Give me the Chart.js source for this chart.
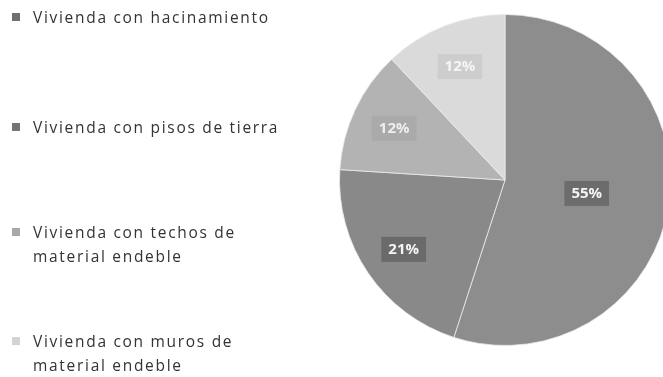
<!DOCTYPE html>
<html>
<head>
<meta charset="utf-8">
<script src="https://cdn.jsdelivr.net/npm/chart.js@4"></script>
<style>
  html, body { margin: 0; padding: 0; background: #fff; overflow: hidden; }
  body { width: 663px; height: 377px; position: relative; }
  #wrap { position: absolute; left: 0; top: 0; width: 680px; height: 377px; }
  #legend { position: absolute; left: 0; top: 0; width: 330px; height: 377px; }
  .item {
    position: absolute; left: 10px; width: 300px;
    font-family: "Open Sans", sans-serif; font-size: 15.5px; letter-spacing: 1.7px;
    line-height: 24px; color: #333;
    padding-left: 23px; box-sizing: border-box;
  }
  .item .box { position: absolute; left: 2px; top: 8px; width: 8px; height: 8px; }
  .item:nth-child(1) { top: 5px; }
  .item:nth-child(2) { top: 115px; }
  .item:nth-child(3) { top: 220px; width: 262px; }
  .item:nth-child(4) { top: 329px; width: 262px; }
</style>
</head>
<body>
<div id="wrap"><canvas id="pie"></canvas></div>
<div id="legend"></div>
<script>
const labels = [
  'Vivienda con hacinamiento',
  'Vivienda con pisos de tierra',
  'Vivienda con techos de material endeble',
  'Vivienda con muros de material endeble'
];
const shares = [55, 21, 12, 12];
const fills = ['#8d8d8d', '#898989', '#b3b3b3', '#dadada'];
const boxFills = ['#6f6f6f', '#747474', '#a9a9a9', '#d4d4d4'];

// percent labels drawn inside each slice on a soft dark box
const sliceLabels = {
  id: 'sliceLabels',
  afterDatasetsDraw(chart) {
    const ctx = chart.ctx;
    const meta = chart.getDatasetMeta(0);
    ctx.save();
    ctx.font = 'bold 15px "Open Sans", sans-serif';
    ctx.textAlign = 'center';
    ctx.textBaseline = 'middle';
    meta.data.forEach((arc, i) => {
      const p = arc.getProps(['x', 'y', 'startAngle', 'endAngle', 'outerRadius']);
      const mid = (p.startAngle + p.endAngle) / 2;
      const r = p.outerRadius * (shares[i] > 40 ? 0.5 : 0.74);
      const x = p.x + Math.cos(mid) * r;
      const y = p.y + Math.sin(mid) * r;
      const text = shares[i] + '%';
      const w = ctx.measureText(text).width + 14;
      ctx.fillStyle = i < 2 ? 'rgba(60,60,60,0.4)' : 'rgba(60,60,60,0.08)';
      ctx.fillRect(x - w / 2, y - 12, w, 25);
      ctx.fillStyle = i < 2 ? '#f4f4f4' : 'rgba(255,255,255,0.8)';
      ctx.fillText(text, x, y + 1);
    });
    ctx.restore();
  }
};

const chart = new Chart(document.getElementById('pie'), {
  type: 'pie',
  data: {
    labels: labels,
    datasets: [{
      data: shares,
      backgroundColor: fills,
      borderColor: 'rgba(235,235,235,0.8)',
      borderWidth: 1
    }]
  },
  options: {
    responsive: true,
    maintainAspectRatio: false,
    animation: false,
    layout: { padding: { left: 339, right: 9, top: 14, bottom: 31 } },
    plugins: {
      legend: { display: false },
      tooltip: { enabled: false }
    }
  },
  plugins: [sliceLabels]
});

// legend on the left, built from the chart's own labels and colours
const legendEl = document.getElementById('legend');
chart.data.labels.forEach((name, i) => {
  const item = document.createElement('div');
  item.className = 'item';
  item.innerHTML = `<span class="box" style="background:${boxFills[i]}"></span>${name}`;
  legendEl.appendChild(item);
});
</script>
</body>
</html>
